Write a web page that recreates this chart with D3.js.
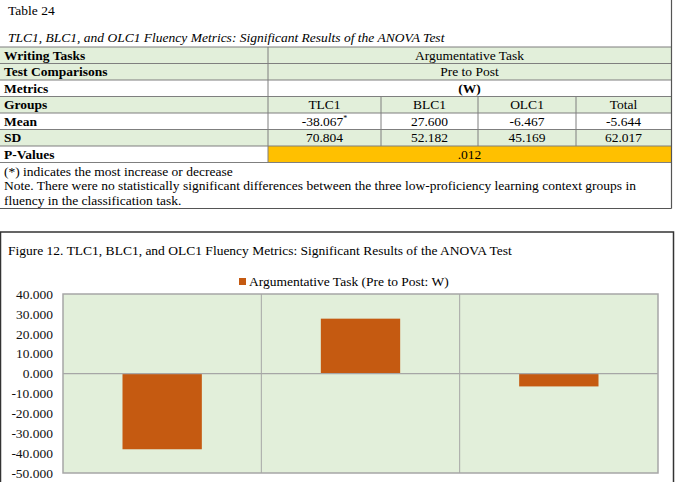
<!DOCTYPE html>
<html lang="en">
<head>
  <meta charset="utf-8">
  <title>Table 24 / Figure 12</title>
  <script src="https://cdn.jsdelivr.net/npm/d3@7"></script>
  <style>
    body { margin: 0; background: #fff; }
    svg { display: block; font-family: "Liberation Serif", "Times New Roman", serif; }
  </style>
</head>
<body>
  <svg id="page" width="675" height="482"></svg>

  <script>
  // --- data ---
  const groups = ["TLC1", "BLC1", "OLC1", "Total"];
  const meanValues = [-38.067, 27.600, -6.467, -5.644];
  const meanLabels = ["-38.067", "27.600", "-6.467", "-5.644"];
  const sdLabels = ["70.804", "52.182", "45.169", "62.017"];
  const pValue = ".012";
  const chartGroups = groups.slice(0, 3);
  const chartValues = meanValues.slice(0, 3);
  const yTicks = [40, 30, 20, 10, 0, -10, -20, -30, -40, -50];
  const seriesName = "Argumentative Task (Pre to Post: W)";

  const svg = d3.select("#page");
  const green = "#e2efda", orange = "#ffc000", barColor = "#c55a11";
  const line = "#7f7f7f";

  // ---------------- table ----------------
  const colX = [0, 268, 381, 478, 576, 671];
  const rowTop = 47, rowH = 16.5;

  svg.append("text").attr("x", 8).attr("y", 15)
    .attr("font-size", 13.5).text("Table 24");
  svg.append("text").attr("x", 8).attr("y", 42)
    .attr("font-size", 13.5).attr("font-style", "italic")
    .text("TLC1, BLC1, and OLC1 Fluency Metrics: Significant Results of the ANOVA Test");

  // rows: label, fill, cells (either one spanning cell or four)
  const rows = [
    { label: "Writing Tasks", fill: green, span: "Argumentative Task" },
    { label: "Test Comparisons", fill: green, span: "Pre to Post" },
    { label: "Metrics", fill: "#fff", span: "(W)", spanBold: true },
    { label: "Groups", fill: green, cells: groups },
    { label: "Mean", fill: "#fff", cells: meanLabels, star: 0 },
    { label: "SD", fill: green, cells: sdLabels },
    { label: "P-Values", fill: "#fff", span: pValue, spanFill: orange }
  ];

  const tbl = svg.append("g");
  rows.forEach((r, i) => {
    const y = rowTop + i * rowH;
    tbl.append("rect").attr("x", colX[0]).attr("y", y)
      .attr("width", colX[5] - colX[0]).attr("height", rowH).attr("fill", r.fill);
    if (r.spanFill) {
      tbl.append("rect").attr("x", colX[1]).attr("y", y)
        .attr("width", colX[5] - colX[1]).attr("height", rowH).attr("fill", r.spanFill);
    }
    tbl.append("text").attr("x", 4).attr("y", y + 12.8)
      .attr("font-size", 13.5).attr("font-weight", "bold").text(r.label);
    if (r.span !== undefined) {
      tbl.append("text").attr("x", (colX[1] + colX[5]) / 2).attr("y", y + 12.8)
        .attr("text-anchor", "middle").attr("font-size", 13.5)
        .attr("font-weight", r.spanBold ? "bold" : null).text(r.span);
    } else {
      r.cells.forEach((c, j) => {
        const t = tbl.append("text").attr("x", (colX[j + 1] + colX[j + 2]) / 2).attr("y", y + 12.8)
          .attr("text-anchor", "middle").attr("font-size", 13.5).text(c);
        if (r.star === j) t.append("tspan").attr("font-size", 8).attr("dy", -5).text("*");
      });
    }
  });

  // grid lines of the table
  const tableBottom = rowTop + rows.length * rowH;
  d3.range(rows.length + 1).forEach(i => {
    tbl.append("line").attr("x1", 0).attr("x2", colX[5])
      .attr("y1", rowTop + i * rowH).attr("y2", rowTop + i * rowH)
      .attr("stroke", line).attr("stroke-width", 1.2);
  });
  tbl.append("line").attr("x1", colX[1]).attr("x2", colX[1])
    .attr("y1", rowTop).attr("y2", tableBottom).attr("stroke", line);
  [2, 3, 4].forEach(k => {
    tbl.append("line").attr("x1", colX[k]).attr("x2", colX[k])
      .attr("y1", rowTop + 3 * rowH).attr("y2", rowTop + 6 * rowH).attr("stroke", line);
  });

  const notes = [
    "(*) indicates the most increase or decrease",
    "Note. There were no statistically significant differences between the three low-proficiency learning context groups in",
    "fluency in the classification task."
  ];
  notes.forEach((n, i) => {
    svg.append("text").attr("x", 4).attr("y", tableBottom + 13 + i * 14.5)
      .attr("font-size", 13.5).text(n);
  });
  // outer frame of the table block
  svg.append("line").attr("x1", 0).attr("x2", 671.5).attr("y1", 208.5).attr("y2", 208.5)
    .attr("stroke", "#555").attr("stroke-width", 1.2);
  svg.append("line").attr("x1", 671.5).attr("x2", 671.5).attr("y1", 0).attr("y2", 208.5)
    .attr("stroke", "#555").attr("stroke-width", 1.2);

  // ---------------- chart ----------------
  svg.append("rect").attr("x", 0.5).attr("y", 232).attr("width", 673).attr("height", 300)
    .attr("fill", "#fff").attr("stroke", "#333").attr("stroke-width", 1.5);

  svg.append("text").attr("x", 8).attr("y", 255).attr("font-size", 13.5)
    .text("Figure 12. TLC1, BLC1, and OLC1 Fluency Metrics: Significant Results of the ANOVA Test");

  const plot = { left: 63, right: 658, top: 294, bottom: 473 };
  const x = d3.scaleBand().domain(chartGroups).range([plot.left, plot.right]).padding(0);
  const y = d3.scaleLinear().domain([-50, 40]).range([plot.bottom, plot.top]);
  const barW = x.bandwidth() * 0.4;

  // legend
  const lg = svg.append("g").attr("transform", "translate(239,278)");
  lg.append("rect").attr("width", 7).attr("height", 7).attr("fill", barColor);
  lg.append("text").attr("x", 10).attr("y", 7.5).attr("font-size", 13.5).text(seriesName);

  svg.append("rect").attr("x", plot.left).attr("y", plot.top)
    .attr("width", plot.right - plot.left).attr("height", plot.bottom - plot.top)
    .attr("fill", green).attr("stroke", "#a6a6a6").attr("stroke-width", 1.5);

  // category separators
  svg.append("g").selectAll("line").data(chartGroups.slice(1)).join("line")
    .attr("x1", d => x(d)).attr("x2", d => x(d))
    .attr("y1", plot.top).attr("y2", plot.bottom)
    .attr("stroke", "#a6a6a6").attr("stroke-width", 1);

  // bars
  svg.append("g").selectAll("rect").data(chartValues).join("rect")
    .attr("x", (d, i) => x(chartGroups[i]) + (x.bandwidth() - barW) / 2)
    .attr("y", d => y(Math.max(0, d)))
    .attr("width", barW)
    .attr("height", d => Math.abs(y(d) - y(0)))
    .attr("fill", barColor);

  // zero line
  svg.append("line").attr("x1", plot.left).attr("x2", plot.right)
    .attr("y1", y(0)).attr("y2", y(0)).attr("stroke", "#a6a6a6").attr("stroke-width", 1.2);

  // y axis labels (plain hyphen for negatives, as in the source)
  const yAxis = d3.axisLeft(y).tickValues(yTicks).tickFormat(d => d.toFixed(3))
    .tickSize(0).tickPadding(10);
  const ag = svg.append("g").attr("transform", `translate(${plot.left},0)`).call(yAxis);
  ag.select(".domain").remove();
  ag.selectAll("text").attr("font-family", "Liberation Serif, serif").attr("font-size", 13.5).attr("fill", "#111");
  </script>
</body>
</html>
